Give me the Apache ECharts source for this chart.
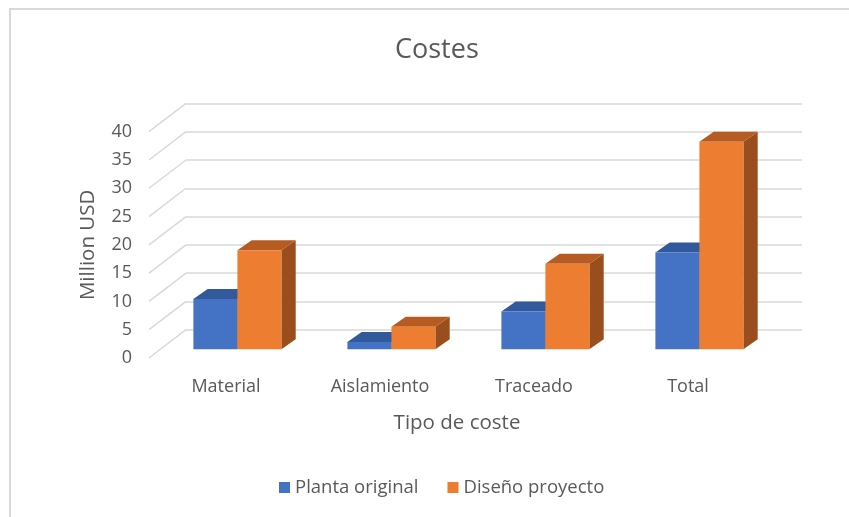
<!DOCTYPE html>
<html>
<head>
<meta charset="utf-8">
<title>Costes</title>
<script src="https://cdn.jsdelivr.net/npm/echarts@6/dist/echarts.min.js"></script>
<style>
  html, body { margin: 0; padding: 0; background: #ffffff; }
  #chart { width: 849px; height: 517px; }
</style>
</head>
<body>
<div id="chart"></div>
<script>
// Cost categories and values (million USD)
const categories = ['Material', 'Aislamiento', 'Traceado', 'Total'];
const plantaOriginal = [8.9, 1.3, 6.7, 17.1];
const disenoProyecto = [17.5, 4.0, 15.1, 36.7];
const yTicks = [0, 5, 10, 15, 20, 25, 30, 35, 40];

// Oblique projection used for the pseudo-3D look
const WALL_DX = 37, WALL_DY = -28.3;   // front plane -> back wall
const FACE_DX = 11.4, FACE_DY = -8.7;  // front plane -> bar front faces
const BAR_DX = 14.3, BAR_DY = -10;     // bar depth

const TEXT = '#595959';
const GRID_LINE = '#d9d9d9';
const FONT = 'Open Sans';

function bar3d(slot, front, top, side) {
  return function (params, api) {
    const cat = api.value(0);
    const val = api.value(1);
    const base = api.coord([cat, 0]);
    const peak = api.coord([cat, val]);
    const band = api.size([1, 0])[0];
    const w = band / 3.5;
    const x0 = base[0] - w + slot * w + FACE_DX;
    const yb = base[1] + FACE_DY;
    const yt = peak[1] + FACE_DY;
    return {
      type: 'group',
      children: [
        {
          type: 'polygon',
          shape: { points: [[x0 + w, yt], [x0 + w + BAR_DX, yt + BAR_DY], [x0 + w + BAR_DX, yb + BAR_DY], [x0 + w, yb]] },
          style: { fill: side }
        },
        {
          type: 'polygon',
          shape: { points: [[x0, yt], [x0 + w, yt], [x0 + w + BAR_DX, yt + BAR_DY], [x0 + BAR_DX, yt + BAR_DY]] },
          style: { fill: top }
        },
        {
          type: 'rect',
          shape: { x: x0, y: yt, width: w, height: yb - yt },
          style: { fill: front }
        }
      ]
    };
  };
}

const chart = echarts.init(document.getElementById('chart'), null, { renderer: 'canvas' });

chart.setOption({
  animation: false,
  backgroundColor: '#ffffff',
  textStyle: { fontFamily: FONT },
  title: {
    text: 'Costes',
    left: 390,
    top: 32,
    textStyle: { color: TEXT, fontSize: 27, fontWeight: 'normal', fontFamily: FONT }
  },
  legend: {
    data: ['Planta original', 'Diseño proyecto'],
    bottom: 15,
    left: 274,
    itemWidth: 11,
    itemHeight: 11,
    itemGap: 29,
    icon: 'rect',
    textStyle: { color: TEXT, fontSize: 18.5, fontFamily: FONT }
  },
  graphic: [
    {
      type: 'rect',
      shape: { x: 10, y: 9, width: 900, height: 600 },
      style: { fill: 'none', stroke: GRID_LINE, lineWidth: 2 },
      silent: true,
      z: -10
    }
  ],
  grid: [
    { left: 149, right: 84, top: 131.7, bottom: 159 },
    { left: 186, right: 47, top: 103.4, bottom: 187.3 }
  ],
  xAxis: [
    {
      type: 'category',
      gridIndex: 0,
      data: categories,
      axisLine: { show: false },
      axisTick: { show: false },
      axisLabel: { color: TEXT, fontSize: 18, margin: 20, fontFamily: FONT },
      name: 'Tipo de coste',
      nameLocation: 'middle',
      nameGap: 55,
      nameTextStyle: { color: TEXT, fontSize: 20.5, fontFamily: FONT }
    },
    { type: 'value', gridIndex: 1, show: false, min: 0, max: 1 }
  ],
  yAxis: [
    {
      type: 'value',
      gridIndex: 0,
      min: 0,
      max: 40,
      interval: 5,
      axisLine: { show: false },
      axisTick: { show: false },
      splitLine: { show: false },
      axisLabel: { color: TEXT, fontSize: 18, margin: 17, fontFamily: FONT },
      name: 'Million USD',
      nameLocation: 'middle',
      nameGap: 50,
      nameRotate: 90,
      nameTextStyle: { color: TEXT, fontSize: 20.5, fontFamily: FONT }
    },
    {
      type: 'value',
      gridIndex: 1,
      min: 0,
      max: 40,
      interval: 5,
      axisLine: { show: false },
      axisTick: { show: false },
      axisLabel: { show: false },
      splitLine: { show: true, lineStyle: { color: GRID_LINE, width: 1.5 } }
    }
  ],
  series: [
    {
      name: 'wall-diagonals',
      type: 'custom',
      xAxisIndex: 0,
      yAxisIndex: 0,
      silent: true,
      clip: false,
      z: 1,
      data: yTicks.map(v => [0, v]),
      encode: { x: 0, y: 1 },
      renderItem: function (params, api) {
        const x = params.coordSys.x;
        const y = api.coord([0, api.value(1)])[1];
        return {
          type: 'line',
          shape: { x1: x, y1: y, x2: x + WALL_DX, y2: y + WALL_DY },
          style: { stroke: GRID_LINE, lineWidth: 1.5 }
        };
      }
    },
    {
      name: 'Planta original',
      type: 'custom',
      xAxisIndex: 0,
      yAxisIndex: 0,
      clip: false,
      z: 3,
      itemStyle: { color: '#4472C4' },
      data: plantaOriginal.map((v, i) => [i, v]),
      encode: { x: 0, y: 1 },
      renderItem: bar3d(0, '#4472C4', '#31599B', '#2B4D86')
    },
    {
      name: 'Diseño proyecto',
      type: 'custom',
      xAxisIndex: 0,
      yAxisIndex: 0,
      clip: false,
      z: 4,
      itemStyle: { color: '#ED7D31' },
      data: disenoProyecto.map((v, i) => [i, v]),
      encode: { x: 0, y: 1 },
      renderItem: bar3d(1, '#ED7D31', '#B65C22', '#9A4D1D')
    }
  ]
});
</script>
</body>
</html>
